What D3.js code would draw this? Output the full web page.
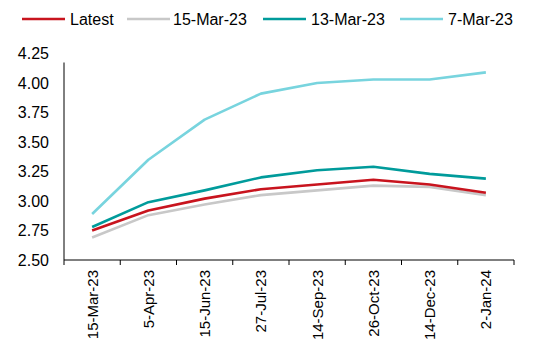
<!DOCTYPE html>
<html>
<head>
<meta charset="utf-8">
<script src="https://cdn.jsdelivr.net/npm/d3@7"></script>
<style>
  html, body { margin: 0; padding: 0; background: #fff; }
  svg { display: block; font-family: "Liberation Sans", Arial, sans-serif; }
</style>
</head>
<body>
<svg id="chart" width="540" height="361"></svg>
<script>
// Curve dates (x categories)
const dates = ["15-Mar-23", "5-Apr-23", "15-Jun-23", "27-Jul-23", "14-Sep-23", "26-Oct-23", "14-Dec-23", "2-Jan-24"];

// Series values per curve snapshot
const latest   = [2.75, 2.92, 3.02, 3.10, 3.14, 3.18, 3.14, 3.07];
const mar15    = [2.69, 2.88, 2.97, 3.05, 3.09, 3.13, 3.12, 3.05];
const mar13    = [2.78, 2.99, 3.09, 3.20, 3.26, 3.29, 3.23, 3.19];
const mar7     = [2.89, 3.35, 3.69, 3.91, 4.00, 4.03, 4.03, 4.09];

const seriesNames  = ["Latest", "15-Mar-23", "13-Mar-23", "7-Mar-23"];
const seriesColors = ["#C8141E", "#C8C8C8", "#009B9B", "#78D4DE"];

const yTicks = [2.50, 2.75, 3.00, 3.25, 3.50, 3.75, 4.00, 4.25];

const series = [
  { name: seriesNames[0], values: latest, color: seriesColors[0] },
  { name: seriesNames[1], values: mar15,  color: seriesColors[1] },
  { name: seriesNames[2], values: mar13,  color: seriesColors[2] },
  { name: seriesNames[3], values: mar7,   color: seriesColors[3] }
];

const svg = d3.select("#chart");

const plotLeft = 64, plotRight = 514, plotTop = 53.5, plotBottom = 260;

const x = d3.scaleBand().domain(dates).range([plotLeft, plotRight]).padding(0);
const y = d3.scaleLinear().domain([2.5, 4.25]).range([plotBottom, plotTop]);

// Y axis
const yAxis = svg.append("g").attr("transform", `translate(${plotLeft},0)`)
  .call(d3.axisLeft(y).tickValues(yTicks).tickFormat(d3.format(".2f")).tickSize(0).tickPadding(15));
yAxis.select(".domain").remove();
yAxis.selectAll("text").attr("font-size", 16).attr("fill", "#000")
  .attr("font-family", "Liberation Sans, Arial, sans-serif");
svg.append("line").attr("x1", plotLeft).attr("x2", plotLeft).attr("y1", plotTop + 9).attr("y2", plotBottom)
  .attr("stroke", "#000").attr("stroke-width", 1);

// X axis with ticks at band boundaries
const xAxisG = svg.append("g").attr("transform", `translate(0,${plotBottom})`);
xAxisG.append("line").attr("x1", plotLeft).attr("x2", plotRight).attr("y1", 0).attr("y2", 0)
  .attr("stroke", "#000").attr("stroke-width", 1);
const boundaries = dates.map(d => x(d)).concat([x(dates[dates.length - 1]) + x.bandwidth()]);
xAxisG.selectAll("line.tick").data(boundaries).join("line")
  .attr("class", "tick")
  .attr("x1", d => d).attr("x2", d => d).attr("y1", 0).attr("y2", 5)
  .attr("stroke", "#000").attr("stroke-width", 1);
xAxisG.selectAll("text").data(dates).join("text")
  .attr("transform", d => `translate(${x(d) + x.bandwidth() / 2},10) rotate(-90)`)
  .attr("text-anchor", "end")
  .attr("dominant-baseline", "central")
  .attr("font-size", 15)
  .attr("fill", "#000")
  .text(d => d);

// Lines (draw back-to-front so Latest sits on top)
const line = d3.line()
  .x((d, i) => x(dates[i]) + x.bandwidth() / 2)
  .y(d => y(d));

svg.append("g").selectAll("path").data(series.slice().reverse()).join("path")
  .attr("d", d => line(d.values))
  .attr("fill", "none")
  .attr("stroke", d => d.color)
  .attr("stroke-width", 2.6)
  .attr("stroke-linejoin", "round");

// Legend
const legendItems = [
  { lx: 22, tx: 70 },
  { lx: 127, tx: 173 },
  { lx: 263, tx: 311 },
  { lx: 400, tx: 448 }
];
const legend = svg.append("g");
series.forEach((s, i) => {
  const p = legendItems[i];
  legend.append("line")
    .attr("x1", p.lx).attr("x2", p.lx + 43).attr("y1", 19).attr("y2", 19)
    .attr("stroke", s.color).attr("stroke-width", 2.6);
  legend.append("text")
    .attr("x", p.tx).attr("y", 19)
    .attr("dominant-baseline", "central")
    .attr("font-size", 16).attr("fill", "#000")
    .text(s.name);
});
</script>
</body>
</html>
